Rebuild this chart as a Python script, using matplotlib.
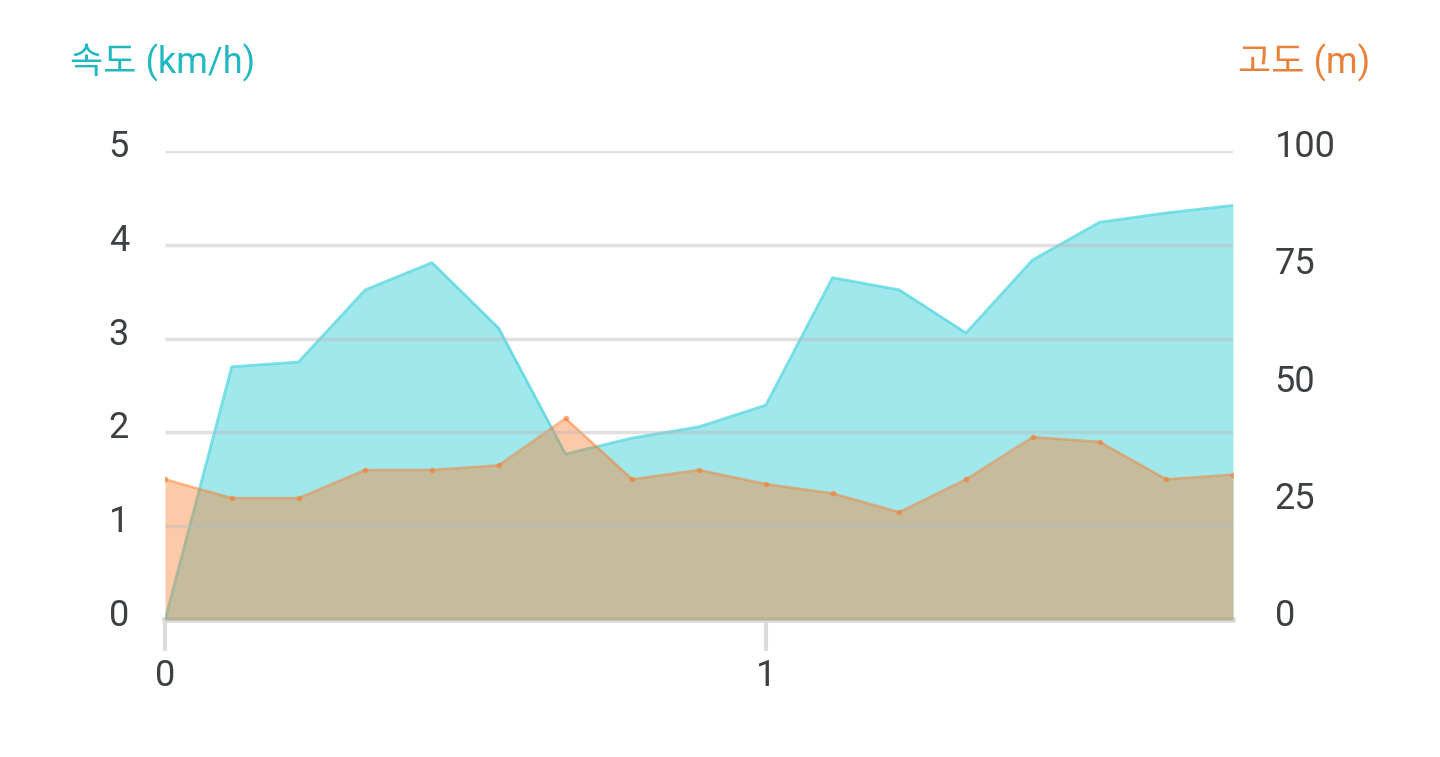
import numpy as np
import matplotlib
matplotlib.use('Agg')
import matplotlib.pyplot as plt
from matplotlib.transforms import ScaledTranslation

# distance (km) sampled every 1/9 km
dist = [i / 9 for i in range(17)]
speed = [0, 2.70, 2.75, 3.52, 3.81, 3.11, 1.77, 1.94, 2.06, 2.29,
         3.65, 3.52, 3.06, 3.84, 4.24, 4.34, 4.42]
alt = [30, 26, 26, 32, 32, 33, 43, 30, 32, 29, 27, 23, 30, 39, 38, 30, 31]

speed_ticks = [0, 1, 2, 3, 4, 5]
alt_ticks = [0, 25, 50, 75, 100]
x_ticks = [0, 1]

cyan = '#45d3dc'
orange = '#fa7a26'
txt = '#3c4043'
grid = '#dcdcdc'

plt.rcParams['font.family'] = ['Roboto', 'Noto Sans CJK KR', 'DejaVu Sans']

fig = plt.figure(figsize=(14.4, 7.57), dpi=100)
ax = fig.add_axes([165/1440, 1-620/757, (1233-165)/1440, (620-151)/757])
ax2 = ax.twinx()

for a in (ax, ax2):
    for s in a.spines.values():
        s.set_visible(False)

ax.set_xlim(0, 16/9)
ax.set_ylim(0, 5)
ax2.set_ylim(0, 100)

ax.fill_between(dist, speed, 0, color=cyan, alpha=0.5, lw=0, zorder=2)
ax.plot(dist, speed, color=cyan, lw=2, alpha=0.7, zorder=3)
ax2.fill_between(dist, alt, 0, color=orange, alpha=0.4, lw=0, zorder=2)
ax2.plot(dist, alt, color=orange, lw=1.8, alpha=0.5, marker='o', ms=3, zorder=3)

ax.set_yticks(speed_ticks)
ax.set_yticklabels([str(v) for v in speed_ticks])
ax2.set_yticks(alt_ticks)
ax2.set_yticklabels([str(v) for v in alt_ticks])
ax.set_xticks(x_ticks)
ax.set_xticklabels([str(v) for v in x_ticks])

ax.tick_params(axis='y', length=0, pad=26, labelsize=26, labelcolor=txt)
ax2.tick_params(axis='y', length=0, pad=30, labelsize=26, labelcolor=txt)
ax.tick_params(axis='x', length=22, width=3, color=grid, pad=5, labelsize=26, labelcolor=txt)

shift = ScaledTranslation(0, 8/100, fig.dpi_scale_trans)
for lab in ax.get_yticklabels() + ax2.get_yticklabels():
    lab.set_transform(lab.get_transform() + shift)

# gridlines in speed units, drawn on the upper (altitude) axes so they sit over both fills
ax2.hlines(speed_ticks[1:], 0, 1, transform=ax.get_yaxis_transform(),
           color='#bbbbbb', lw=2.5, alpha=0.45, zorder=4)
ax.axhline(0, color=grid, lw=4, zorder=1, clip_on=False)

fig.text(70/1440, 1-63/757, '속도 (km/h)', color='#22b8c2', fontsize=26, ha='left', va='center')
fig.text(1370/1440, 1-63/757, '고도 (m)', color='#e8823a', fontsize=26, ha='right', va='center')

plt.savefig('out.png', dpi=100)
